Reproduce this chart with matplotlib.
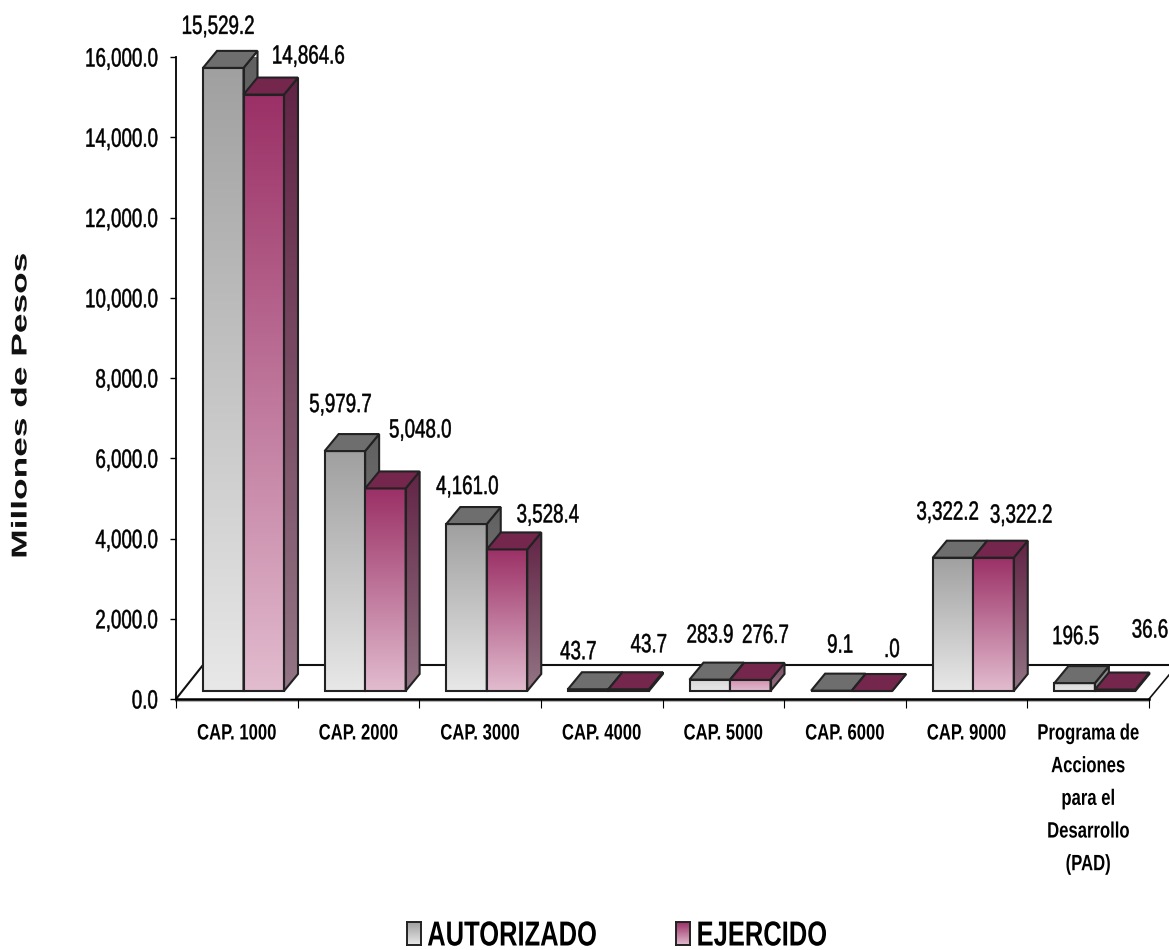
import matplotlib
matplotlib.use("Agg")
import matplotlib.pyplot as plt
import numpy as np
from matplotlib.colors import LinearSegmentedColormap
from matplotlib.patches import Polygon
from matplotlib.patheffects import AbstractPathEffect
from matplotlib.transforms import Affine2D

categories = ["CAP. 1000", "CAP. 2000", "CAP. 3000", "CAP. 4000", "CAP. 5000", "CAP. 6000", "CAP. 9000",
              "Programa de\nAcciones\npara el\nDesarrollo\n(PAD)"]
autorizado = [15529.2, 5979.7, 4161.0, 43.7, 283.9, 9.1, 3322.2, 196.5]
ejercido = [14864.6, 5048.0, 3528.4, 43.7, 276.7, 0.0, 3322.2, 36.6]
autorizado_labels = ["15,529.2", "5,979.7", "4,161.0", "43.7", "283.9", "9.1", "3,322.2", "196.5"]
ejercido_labels = ["14,864.6", "5,048.0", "3,528.4", "43.7", "276.7", ".0", "3,322.2", "36.6"]
y_ticks = [0, 2000, 4000, 6000, 8000, 10000, 12000, 14000, 16000]

W, H = 1169, 950
PX_X = (1149 - 176) / 8     # pixels per category
PX_Y = (699 - 57) / 16000   # pixels per million pesos

FONT = "Liberation Sans"


class Squeeze(AbstractPathEffect):
    # scales the drawn glyphs around an anchor of their box, no condensed font is available
    def __init__(self, sx=1.0, sy=1.0, anchor="center", stroke=0.0):
        super().__init__()
        self.sx = sx
        self.sy = sy
        self.anchor = anchor
        self.stroke = stroke

    def draw_path(self, renderer, gc, tpath, affine, rgbFace=None):
        box = tpath.transformed(affine).get_extents()
        px = {"center": (box.x0 + box.x1) / 2, "left": box.x0, "right": box.x1}[self.anchor]
        py = (box.y0 + box.y1) / 2
        t = affine + Affine2D().translate(-px, -py).scale(self.sx, self.sy).translate(px, py)
        gc0 = renderer.new_gc()
        gc0.copy_properties(gc)
        if self.stroke:
            gc0.set_linewidth(self.stroke)
            gc0.set_foreground(rgbFace)
        renderer.draw_path(gc0, tpath, t, rgbFace)
        gc0.restore()


fig = plt.figure(figsize=(W / 100, H / 100), dpi=100)
ax = fig.add_axes([176 / W, 1 - 699 / H, (1149 - 176) / W, (699 - 57) / H])


def px_x(p):
    return p / PX_X


def px_y(p):
    return p / PX_Y


def gradient_poly(pts, top, bottom, zorder, edge="#222222"):
    # fill a polygon with a vertical gradient from top colour to bottom colour
    xs = [p[0] for p in pts]
    ys = [p[1] for p in pts]
    cmap = LinearSegmentedColormap.from_list("g", [top, bottom])
    grad = np.linspace(0, 1, 256).reshape(-1, 1)
    im = ax.imshow(grad, cmap=cmap, extent=(min(xs), max(xs), min(ys), max(ys)), aspect="auto",
                   origin="upper", zorder=zorder, clip_on=True)
    poly = Polygon(pts, closed=True, facecolor="none", edgecolor=edge, linewidth=1.5, zorder=zorder + 0.01,
                   joinstyle="miter", clip_on=False)
    ax.add_patch(poly)
    im.set_clip_path(poly)


def bar3d(x, value, colors, zorder):
    base = px_y(8)
    w = px_x(40.5)
    dx = px_x(14)
    dy = px_y(17)
    top = base + value
    if value < 1000:
        front_top, side_top = colors["low_front"], colors["low_side"]
    else:
        front_top, side_top = colors["front_top"], colors["side_top"]
    gradient_poly([(x, base), (x + w, base), (x + w, top), (x, top)], front_top, colors["front_bottom"], zorder)
    gradient_poly([(x + w, base), (x + w + dx, base + dy), (x + w + dx, top + dy), (x + w, top)],
                  side_top, colors["side_bottom"], zorder)
    ax.add_patch(Polygon([(x, top), (x + w, top), (x + w + dx, top + dy), (x + dx, top + dy)], closed=True,
                         facecolor=colors["cap"], edgecolor="#222222", linewidth=1.5, zorder=zorder + 0.02,
                         clip_on=False))


gray = {"front_top": "#a0a0a0", "front_bottom": "#e8e8e8", "side_top": "#606060", "side_bottom": "#8a8a8a",
        "low_front": "#d8d8d8", "low_side": "#8a8a8a", "cap": "#6e6e6e"}
pink = {"front_top": "#9b3066", "front_bottom": "#e2bccf", "side_top": "#622445", "side_bottom": "#937585",
        "low_front": "#cf8fae", "low_side": "#7a4a62", "cap": "#74264d"}

# floor of the chart
back_h = px_y(34)
back_w = px_x(27)
ax.plot([0, back_w, 8 + px_x(20)], [0, back_h, back_h], color="#111111", lw=1.5, zorder=1, clip_on=False)
ax.plot([8, 8 + px_x(20)], [0, px_y(24)], color="#111111", lw=1.2, zorder=1, clip_on=False)
ax.plot([0, 8], [-px_y(2), -px_y(2)], color="#b5b5b5", lw=1.5, zorder=1, clip_on=False)

bar_x = [i + px_x(27) for i in range(len(categories))]
for i, x in enumerate(bar_x):
    bar3d(x, autorizado[i], gray, 2 + i * 0.2)
    bar3d(x + px_x(40.5), ejercido[i], pink, 2.1 + i * 0.2)

# value labels are placed by hand around the bars: pixel shift from the top centre of each bar
a_offs = [(-5, 41), (-4, 46), (1, 37), (-9.5, 37), (0.5, 44), (9, 45), (-5, 45), (1, 46)]
e_offs = [(44.5, 38), (35, 58), (41, 34), (20.5, 44), (15.5, 44), (20, 41), (28, 42), (35, 59)]
squeeze_value = [Squeeze(sx=0.71, stroke=0.35)]
for i, x in enumerate(bar_x):
    for off, v, lab, cx in [(a_offs[i], autorizado[i], autorizado_labels[i], x + px_x(20)),
                            (e_offs[i], ejercido[i], ejercido_labels[i], x + px_x(60.5))]:
        ax.text(cx + px_x(off[0]), v + px_y(8 + off[1]), lab, ha="center", va="center", fontsize=19,
                family=FONT, color="black", zorder=10, clip_on=False, path_effects=squeeze_value)

ax.set_xlim(0, 8)
ax.set_ylim(0, 16000)
ax.set_yticks(y_ticks)
ax.set_yticklabels([f"{t:,.1f}" for t in y_ticks], family=FONT, fontsize=19)
for lab in ax.get_yticklabels():
    lab.set_path_effects([Squeeze(sx=0.71, anchor="right", stroke=0.35)])
ax.set_xticks(range(9))
ax.set_xticklabels([])
ax.tick_params(axis="y", length=4.5, width=1.0, pad=8.5)
ax.tick_params(axis="x", length=6.5, width=0.8)
for s in ["top", "right"]:
    ax.spines[s].set_visible(False)
ax.spines["left"].set_linewidth(1.3)
ax.spines["bottom"].set_linewidth(1.8)
ax.patch.set_alpha(0)

for i, c in enumerate(categories):
    ax.text(i + 0.5, -px_y(24.5), c, ha="center", va="top", fontsize=16, fontweight="bold", family=FONT,
            linespacing=1.73, clip_on=False, path_effects=[Squeeze(sx=0.75)])

fig.text(21 / W, 1 - 405.5 / H, "Millones de Pesos", rotation=90, ha="center", va="center", fontsize=15.5,
         fontweight="bold", family=FONT, color="#111111", path_effects=[Squeeze(sy=1.64)])

# legend, placed on the figure
for left, top, bottom, name, tx in [(407, "#a0a0a0", "#e8e8e8", "AUTORIZADO", 427),
                                    (676, "#9b3066", "#e2bccf", "EJERCIDO", 696)]:
    lax = fig.add_axes([left / W, 1 - 945 / H, 14 / W, 23 / H])
    lax.imshow(np.linspace(0, 1, 64).reshape(-1, 1), aspect="auto",
               cmap=LinearSegmentedColormap.from_list("k", [top, bottom]))
    lax.set_xticks([])
    lax.set_yticks([])
    for s in lax.spines.values():
        s.set_linewidth(1.4)
        s.set_color("#222222")
    fig.text(tx / W, 1 - 936 / H, name, ha="left", va="center", fontsize=25, fontweight="bold", family=FONT,
             path_effects=[Squeeze(sx=0.735, anchor="left")])

fig.savefig("out.png", dpi=100)
